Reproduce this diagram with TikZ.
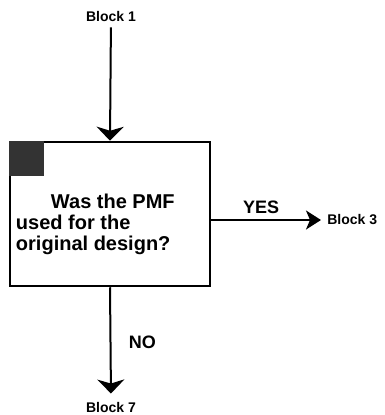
\documentclass[tikz,border=0pt]{standalone}
\usepackage{fontspec}
\setmainfont{Liberation Sans}
\usetikzlibrary{arrows.meta,positioning}

\begin{document}
\begin{tikzpicture}[x=1pt,y=-1pt,->,>={Stealth[length=14pt,width=27pt,inset=4pt]},line width=2pt,
                    block/.style={font=\bfseries\fontsize{14}{16}\selectfont},
                    answer/.style={font=\bfseries\fontsize{18}{20}\selectfont},
                    decision/.style={draw,line width=2.5pt,minimum width=200pt,minimum height=144pt,inner sep=0pt}]
    \useasboundingbox (0,0) rectangle (385,415);
    \node[decision] (Q) at (110,214) {};
    \fill[black!80] (Q.north west) rectangle ++(35,35);
    \node[anchor=north west, align=left, inner sep=0pt,
          font=\bfseries\fontsize{20}{21}\selectfont] (QT) at (15,193)
          {\hspace*{35pt}Was the PMF\\used for the\\original design?};

    \node[block] (B1) at (111,16) {Block 1};
    \node[block] (B7) at (111,407) {Block 7};
    \node[block,anchor=west] (B3) at (323,220) {Block 3};
    \coordinate (QR) at (Q.east |- B3.west);

    \path (B1) edge [shorten <=2pt] (Q.north)
          (Q.south) edge [shorten >=4pt] node [answer,right=14pt] {NO} (B7.north)
          (QR) edge [shorten >=2pt,>={Stealth[length=15pt,width=19pt,inset=4pt]}] node [answer,above=2pt,xshift=-6pt] {YES} (B3.west);
\end{tikzpicture}
\end{document}
